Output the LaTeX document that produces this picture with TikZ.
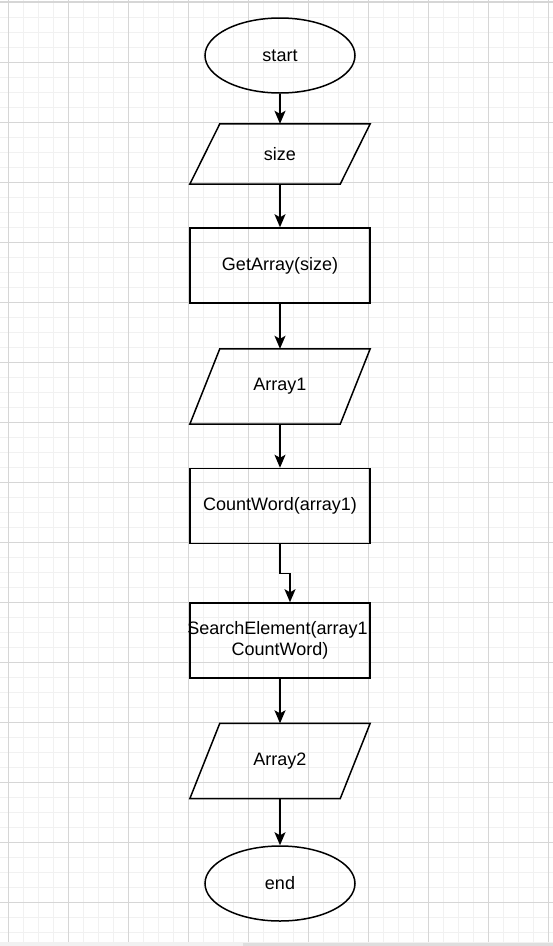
\documentclass[tikz,border=0pt]{standalone}
\usepackage{fontspec}
\setmainfont{Liberation Sans}
\usepackage{tikz}
\usetikzlibrary{shapes,arrows.meta,positioning}
\definecolor{gridmajor}{HTML}{D6D6D6}
\definecolor{gridminor}{HTML}{F1F1F1}
\tikzstyle{terminal} = [ellipse, minimum width=150pt, minimum height=75pt, draw=black, line width=1.5pt, inner sep=0pt]
\tikzstyle{io} = [rectangle, minimum width=180pt, minimum height=75pt, inner sep=0pt]
\tikzstyle{ioedge} = [draw=black, line width=1.5pt, line join=miter]
\tikzstyle{process} = [rectangle, minimum width=180pt, minimum height=75pt, draw=black, line width=1.5pt, align=center, inner sep=0pt]
\tikzstyle{arrow} = [line width=1.5pt,-{Stealth[length=13pt,width=11pt,inset=3pt]}]

\begin{document}
\begin{tikzpicture}[x=1pt, y=-1pt, font=\fontsize{18}{21.5}\selectfont]
    \useasboundingbox (0,0) rectangle (553,946);
    % grid
    \foreach \x in {8,23,...,548} \draw [gridminor, line width=1pt] (\x,0) -- (\x,942);
    \foreach \y in {2,17,...,932} \draw [gridminor, line width=1pt] (0,\y) -- (553,\y);
    \foreach \x in {8,68,...,548} \draw [gridmajor, line width=1pt] (\x,0) -- (\x,942);
    \foreach \y in {2,62,...,902} \draw [gridmajor, line width=1pt] (0,\y) -- (553,\y);
    \fill [gridminor] (0,942) rectangle (553,946);
    \fill [gridmajor!80] (243,943) rectangle (553,946);
    \draw [gridmajor, line width=1pt] (0,1) -- (553,1);

    \node (1) [terminal] at (280,55.5) {start};
    \node (2) [io, node distance=98.5pt, below of=1, minimum height=60pt] {size};
    \node (3) [process, node distance=111.5pt, below of=2] {GetArray(size)};
    \node (4) [io, node distance=121pt, below of=3] {Array1};
    \node (5) [process, node distance=119.5pt, below of=4] {CountWord(array1)};
    \node (6) [process, node distance=134.5pt, below of=5] {\makebox[0pt]{SearchElement(array1,}\\CountWord)};
    \node (7) [io, node distance=120.5pt, below of=6] {Array2};
    \node (8) [terminal, node distance=122.5pt, below of=7] {end};

    % slanted sides of the input/output boxes
    \foreach \n in {2,4,7}
        \draw [ioedge] ([xshift=30pt]\n.north west) -- (\n.north east) -- ([xshift=-30pt]\n.south east) -- (\n.south west) -- cycle;

    \draw [arrow] (1) -- (2);
    \draw [arrow] (2) -- (3);
    \draw [arrow] (3) -- (4);
    \draw [arrow] (4) -- (5);
    \draw [arrow] (5.south) -- ++(0,29) -| ([xshift=10pt]6.north);
    \draw [arrow] (6) -- (7);
    \draw [arrow] (7) -- (8);
\end{tikzpicture}
\end{document}
